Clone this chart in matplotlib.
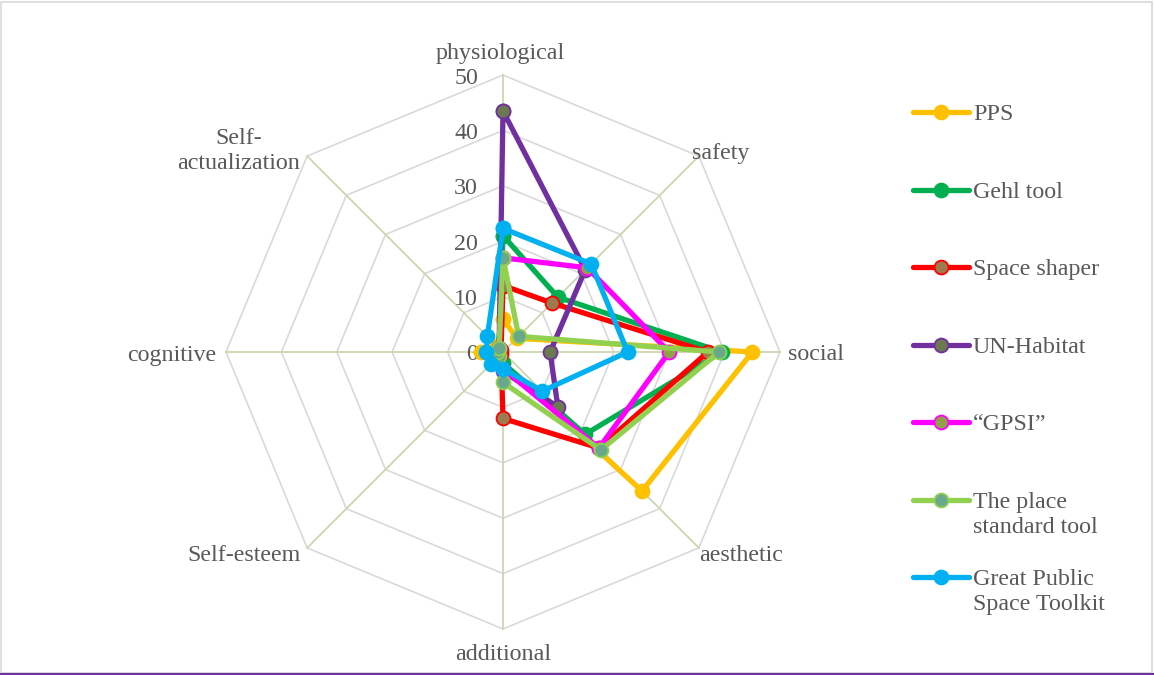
import matplotlib
matplotlib.use('Agg')
import matplotlib.pyplot as plt
import numpy as np
from matplotlib.lines import Line2D
from matplotlib.patches import Rectangle
import matplotlib.transforms as mtransforms

categories = ['physiological', 'safety', 'social', 'aesthetic', 'additional',
              'Self-esteem', 'cognitive', 'Self-\nactualization']
series_names = ['PPS', 'Gehl tool', 'Space shaper', 'UN-Habitat', '\u201cGPSI\u201d',
                'The place\nstandard tool', 'Great Public\nSpace Toolkit']
pps = [6, 3.5, 45, 35.5, 2, 1, 4, 1.5]
gehl = [21, 14, 39.5, 21, 2, 2, 1, 1]
space_shaper = [12, 12.5, 37, 24.5, 12, 0.5, 0.5, 0.5]
un_habitat = [43.5, 21, 8.5, 14, 3.5, 2, 1, 1]
gpsi = [17, 21.5, 30, 24.5, 3, 1.5, 1, 1]
place_standard = [17, 4, 39, 25, 5.5, 1, 1, 1]
gpst = [22.3, 22.5, 22.5, 10, 3, 3, 3, 4]
ticks = [0, 10, 20, 30, 40, 50]

all_series = [pps, gehl, space_shaper, un_habitat, gpsi, place_standard, gpst]
line_colors = ['#FFC000', '#00B050', '#FF0000', '#7030A0', '#FF00FF', '#92D050', '#00B0F0']
face_colors = ['#FFC000', '#00B050', '#9C7B4E', '#6B7A4E', '#8FA346', '#6AA88C', '#00B0F0']

plt.rcParams['font.family'] = ['Liberation Serif', 'DejaVu Serif']
text_color = '#595959'
fs = 17.3

W, H = 1154, 675
fig = plt.figure(figsize=(W / 100, H / 100), dpi=100)
cx, cy, R = 503, 352, 277
ax = fig.add_axes([(cx - R) / W, (H - cy - R) / H, 2 * R / W, 2 * R / H], projection='polar')
ax.set_theta_zero_location('N')
ax.set_theta_direction(-1)
ax.set_ylim(0, ticks[-1])
ax.grid(False)
ax.spines['polar'].set_visible(False)
ax.set_xticks([])
ax.set_yticks([])
ax.patch.set_alpha(0)

n = len(categories)
angles = np.arange(n) * 2 * np.pi / n
closed = np.append(angles, angles[0])

# octagon rings
for t in ticks[1:]:
    ax.plot(closed, [t] * (n + 1), color='#D9D9D9', lw=1.2, zorder=1, clip_on=False)
# spokes
for a in angles:
    ax.plot([a, a], [0, ticks[-1]], color='#CDD6AE', lw=1.3, zorder=1.5, clip_on=False)

# tick labels
toff = mtransforms.offset_copy(ax.transData, fig=fig, x=-25, y=-3, units='dots')
for t in ticks:
    ax.text(0, t, str(t), transform=toff, ha='right', va='center',
            fontsize=fs, color=text_color)

# category labels: (ha, va, dx px, dy px) relative to the 50-ring vertex
label_specs = [
    ('center', 'center', -3, 22),
    ('left', 'center', -7, 3),
    ('left', 'center', 8, -3),
    ('left', 'center', 0, -8),
    ('center', 'center', 0, -26),
    ('right', 'center', -7, -8),
    ('right', 'center', -10, -3),
    ('right', 'center', -7, 5),
]
for a, lab, (ha, va, dx, dy) in zip(angles, categories, label_specs):
    tr = mtransforms.offset_copy(ax.transData, fig=fig, x=dx, y=dy, units='dots')
    ax.text(a, ticks[-1], lab, transform=tr, ha=ha, va=va, fontsize=fs, color=text_color,
            multialignment='center', linespacing=1.25)

# series
for i, (vals, lc, fc) in enumerate(zip(all_series, line_colors, face_colors)):
    v = np.append(vals, vals[0])
    ax.plot(closed, v, color=lc, lw=3.8, marker='o', markersize=10,
            markerfacecolor=fc, markeredgecolor=lc, markeredgewidth=1.3,
            zorder=3 + i, clip_on=False, solid_joinstyle='miter')

# legend (manual, Excel-like)
leg_y = [112, 190, 267, 345, 422, 500, 577]
for name, lc, fc, y in zip(series_names, line_colors, face_colors, leg_y):
    yf = 1 - y / H
    fig.add_artist(Line2D([913 / W, 969 / W], [yf, yf], color=lc, lw=3.8,
                          transform=fig.transFigure, solid_capstyle='round'))
    fig.add_artist(Line2D([941 / W], [yf], color=lc, marker='o', markersize=10,
                          markerfacecolor=fc, markeredgecolor=lc, markeredgewidth=1.3,
                          transform=fig.transFigure))
    fig.text(973 / W, yf + 8 / H, name, ha='left', va='top', fontsize=fs,
             color=text_color, linespacing=1.25)

# frame
fig.add_artist(Rectangle((1 / W, 2 / H), (W - 3) / W, (H - 4) / H, transform=fig.transFigure,
                         fill=False, edgecolor='#D9D9D9', lw=1.2))
fig.add_artist(Line2D([0, 1], [1.5 / H, 1.5 / H], color='#7030A0', lw=1.5,
                      transform=fig.transFigure))

fig.savefig('out.png', dpi=100)
